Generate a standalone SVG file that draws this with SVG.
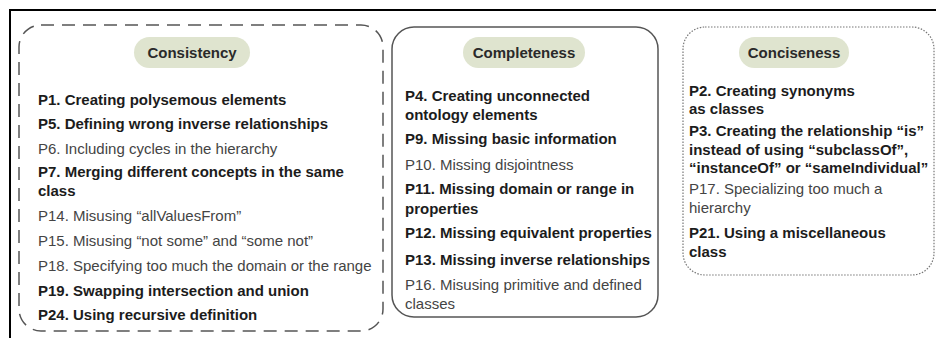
<svg xmlns="http://www.w3.org/2000/svg" width="936" height="338" viewBox="0 0 936 338">
<style>
.t{font-family:"Liberation Sans",Arial,sans-serif;font-size:15px}
.b{font-weight:bold;fill:#1c1c1c}
.r{fill:#444}
.pill{fill:#dfe4cf}
.h{font-family:"Liberation Sans",Arial,sans-serif;font-size:15px;font-weight:bold;fill:#2a2a2a;text-anchor:middle}
</style>
<rect width="936" height="338" fill="#fff"/>
<path d="M10 338 V10 H936" fill="none" stroke="#000" stroke-width="2"/>
<g id="consistency">
<rect x="19" y="25" width="364" height="306" rx="22" fill="none" stroke="#555" stroke-width="1.5" stroke-dasharray="13 8"/>
<rect class="pill" x="134" y="37" width="116" height="31" rx="15.5"/>
<text class="h" x="192" y="58">Consistency</text>
<text class="t b" x="38" y="105">P1. Creating polysemous elements</text>
<text class="t b" x="38" y="129">P5. Defining wrong inverse relationships</text>
<text class="t r" x="38" y="154">P6. Including cycles in the hierarchy</text>
<text class="t b" x="38" y="177">P7. Merging different concepts in the same</text>
<text class="t b" x="38" y="196">class</text>
<text class="t r" x="38" y="221">P14. Misusing “allValuesFrom”</text>
<text class="t r" x="38" y="246">P15. Misusing “not some” and “some not”</text>
<text class="t r" x="38" y="271">P18. Specifying too much the domain or the range</text>
<text class="t b" x="38" y="296">P19. Swapping intersection and union</text>
<text class="t b" x="38" y="320">P24. Using recursive definition</text>
</g>
<g id="completeness">
<rect x="392" y="27" width="266" height="290" rx="22" fill="none" stroke="#555" stroke-width="1.5"/>
<rect class="pill" x="463" y="37" width="122" height="31" rx="15.5"/>
<text class="h" x="524" y="58">Completeness</text>
<text class="t b" x="405" y="101">P4. Creating unconnected</text>
<text class="t b" x="405" y="120">ontology elements</text>
<text class="t b" x="405" y="144">P9. Missing basic information</text>
<text class="t r" x="405" y="170">P10. Missing disjointness</text>
<text class="t b" x="405" y="194">P11. Missing domain or range in</text>
<text class="t b" x="405" y="214">properties</text>
<text class="t b" x="405" y="238">P12. Missing equivalent properties</text>
<text class="t b" x="405" y="265">P13. Missing inverse relationships</text>
<text class="t r" x="405" y="290">P16. Misusing primitive and defined</text>
<text class="t r" x="405" y="309">classes</text>
</g>
<g id="conciseness">
<rect x="683" y="27" width="251" height="248" rx="22" fill="none" stroke="#777" stroke-width="1.2" stroke-dasharray="1.5 1.5"/>
<rect class="pill" x="739" y="37" width="110" height="31" rx="15.5"/>
<text class="h" x="794" y="58">Conciseness</text>
<text class="t b" x="689" y="96">P2. Creating synonyms</text>
<text class="t b" x="689" y="114">as classes</text>
<text class="t b" x="689" y="136">P3. Creating the relationship “is”</text>
<text class="t b" x="689" y="155">instead of using “subclassOf”,</text>
<text class="t b" x="689" y="173">“instanceOf” or “sameIndividual”</text>
<text class="t r" x="689" y="194">P17. Specializing too much a</text>
<text class="t r" x="689" y="213">hierarchy</text>
<text class="t b" x="689" y="238">P21. Using a miscellaneous</text>
<text class="t b" x="689" y="257">class</text>
</g>
<g id="connectors"></g>
</svg>
